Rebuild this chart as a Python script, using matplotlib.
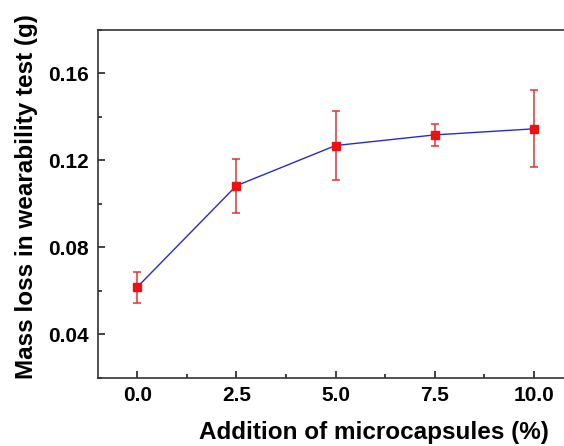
import matplotlib
matplotlib.use("Agg")
import matplotlib.pyplot as plt
from matplotlib.ticker import MultipleLocator, FormatStrFormatter

plt.rcParams['font.family'] = ['Liberation Sans', 'DejaVu Sans']

# Data
additions = [0.0, 2.5, 5.0, 7.5, 10.0]
mass_loss = [0.0616, 0.1083, 0.1268, 0.1317, 0.1345]
errors = [0.0071, 0.0124, 0.0157, 0.0051, 0.0178]
x_ticks = [0.0, 2.5, 5.0, 7.5, 10.0]
y_ticks = [0.04, 0.08, 0.12, 0.16]

W, H = 564, 446
fig = plt.figure(figsize=(W / 100, H / 100), dpi=100)
ax = fig.add_axes([97.5 / W, 1 - 377.5 / H, (573.6 - 97.5) / W, (377.5 - 30) / H])

ax.plot(additions, mass_loss, color='#2a2ac8', lw=1.0, zorder=2)
ax.errorbar(additions, mass_loss, yerr=errors, fmt='none', ecolor='#e63030',
            elinewidth=1.1, capsize=3.2, capthick=1.1, zorder=3)
ax.plot(additions, mass_loss, ls='none', marker='s', ms=5.2, color='#ee1111',
        mec='#ee1111', zorder=4)

ax.set_xlim(-1, 11)
ax.set_ylim(0.02, 0.18)
ax.set_xticks(x_ticks)
ax.set_yticks(y_ticks)
ax.xaxis.set_minor_locator(MultipleLocator(1.25))
ax.yaxis.set_minor_locator(MultipleLocator(0.02))
ax.xaxis.set_major_formatter(FormatStrFormatter('%.1f'))
ax.yaxis.set_major_formatter(FormatStrFormatter('%.2f'))

ax.tick_params(which='both', direction='in', top=False, right=False, color='#222222')
ax.tick_params(which='major', length=5, width=1.2, pad=6.0, labelsize=15)
ax.tick_params(which='minor', length=2.7, width=1.2)
for lbl in ax.get_xticklabels() + ax.get_yticklabels():
    lbl.set_fontweight('bold')

for s in ax.spines.values():
    s.set_linewidth(1.2)
    s.set_color('#333333')

fig.text(374 / W, 1 - 432 / H, 'Addition of microcapsules (%)', ha='center', va='center',
         fontsize=17.5, fontweight='bold')
fig.text(27 / W, 1 - 196.5 / H, 'Mass loss in wearability test (g)', ha='center', va='center',
         rotation=90, fontsize=17.5, fontweight='bold')

fig.savefig('out.png', dpi=100)
